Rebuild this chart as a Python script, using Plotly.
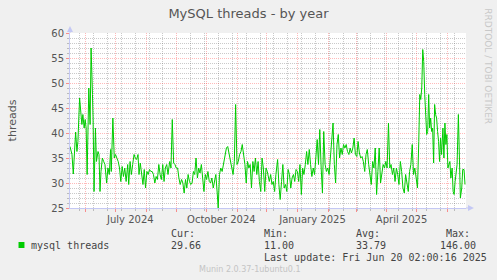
import datetime as dt
import plotly.graph_objects as go

# ---------------- data ----------------
window_start = dt.datetime(2024, 5, 16, 2, 0)
window_days = 400

# days since window_start
day_offset = [
    0.0, 2.0, 3.3, 4.7, 5.7, 7.0, 8.0, 9.7, 10.7, 12.0, 13.0, 14.3, 15.3, 16.3, 17.3, 19.0,
    20.3, 21.3, 22.7, 23.3, 24.3, 25.7, 26.7, 28.3, 29.3, 30.3, 31.3, 32.7, 34.0, 35.3, 37.0,
    38.3, 39.7, 41.0, 41.7, 43.3, 44.7, 46.0, 47.3, 48.7, 50.0, 51.3, 52.7, 54.0, 55.3, 56.7,
    58.3, 59.3, 60.7, 62.0, 63.3, 64.7, 66.0, 67.3, 68.7, 69.7, 71.0, 72.3, 73.7, 75.0, 76.3,
    77.7, 79.0, 80.3, 81.7, 83.0, 84.3, 85.7, 87.0, 88.3, 89.7, 91.0, 92.3, 93.7, 95.0, 96.3,
    97.7, 99.0, 100.7, 102.0, 103.3, 104.7, 106.0, 107.3, 108.7, 110.0, 111.3, 112.7, 114.0,
    115.3, 116.7, 118.0, 119.3, 120.7, 122.0, 123.3, 124.7, 126.0, 127.3, 128.7, 130.0, 131.3,
    132.7, 134.0, 135.3, 136.7, 138.0, 139.3, 140.7, 142.0, 143.3, 144.7, 146.0, 147.3, 148.7,
    149.7, 151.0, 152.3, 153.7, 155.0, 156.7, 158.0, 159.3, 160.7, 162.0, 163.3, 164.7, 166.0,
    167.3, 168.7, 170.0, 171.3, 172.7, 174.0, 175.3, 176.7, 178.0, 179.3, 180.7, 182.0, 183.3,
    184.7, 186.0, 187.3, 188.7, 190.0, 191.3, 192.7, 194.0, 195.3, 196.7, 198.0, 199.3,
    200.0, 201.3, 202.7, 204.0, 205.3, 206.7, 208.0, 209.7, 211.0, 212.3, 213.7, 215.0, 216.3,
    217.7, 219.0, 220.3, 221.7, 223.0, 224.3, 225.7, 227.0, 228.3, 229.7, 231.0, 232.3, 233.7,
    235.0, 236.3, 237.7, 239.0, 240.3, 241.7, 243.0, 244.3, 245.7, 247.0, 248.3, 249.7, 251.0,
    252.3, 253.7, 255.0, 256.3, 257.7, 259.0, 260.3, 261.7, 263.0, 264.3, 265.7, 267.0, 268.3,
    269.7, 271.0, 272.3, 273.7, 275.0, 276.3, 277.7, 279.0, 280.3, 281.7, 283.0, 284.3, 285.7,
    287.0, 288.3, 289.7, 291.0, 292.3, 293.7, 295.0, 296.3, 297.7, 299.0, 300.3, 301.7, 303.0,
    304.3, 305.7, 307.0, 308.3, 309.7, 311.0, 312.3, 313.7, 315.0, 316.3, 317.7, 319.0, 320.3,
    321.7, 323.0, 324.3, 325.7, 327.0, 328.3, 329.7, 331.0, 332.3, 333.7, 335.0, 336.3, 337.7,
    339.0, 340.3, 341.7, 343.0, 344.3, 345.7, 347.0, 348.3, 349.7, 351.0, 352.3, 353.3, 354.3,
    355.3, 356.3, 357.3, 358.3, 359.3, 360.3, 361.3, 362.3, 363.3, 364.3, 365.3, 366.3, 367.3,
    368.3, 369.3, 370.3, 371.3, 372.3, 373.3, 374.3, 375.3, 376.7, 377.7, 378.7, 379.7, 380.7,
    381.7, 382.7, 383.7, 384.7, 386.0, 387.0, 388.0, 389.0, 390.0, 391.0, 392.3, 393.3, 394.3,
    395.7, 396.7, 398.0, 399.0,
]

threads = [
    37.3, 35.7, 31.8, 37.0, 40.2, 36.3, 38.3, 47.0, 45.0, 41.7, 43.7, 41.0, 42.7, 41.0, 31.7, 49.0,
    41.7, 57.0, 47.7, 43.0, 28.3, 41.0, 34.3, 36.3, 35.7, 28.3, 32.3, 35.0, 34.3, 33.7, 30.0,
    33.0, 31.7, 36.7, 32.3, 43.0, 35.0, 35.7, 35.0, 34.3, 33.0, 30.3, 33.3, 31.3, 33.0, 30.3,
    33.7, 29.7, 34.3, 31.7, 33.7, 35.7, 35.0, 34.7, 35.7, 31.7, 34.0, 32.3, 29.7, 32.7, 29.0,
    32.3, 31.7, 32.7, 32.3, 32.3, 31.7, 30.0, 31.3, 30.7, 33.7, 31.7, 30.7, 33.7, 30.3, 33.0,
    33.7, 31.7, 34.3, 33.0, 42.7, 34.0, 33.7, 33.0, 33.0, 31.0, 29.7, 30.7, 30.0,
    28.0, 30.7, 29.0, 31.7, 30.3, 29.7, 30.0, 32.3, 31.7, 35.0, 31.0, 33.0, 32.0,
    33.7, 31.0, 28.3, 31.7, 30.7, 32.3, 30.3, 30.0, 31.0, 29.0, 30.3, 31.7, 28.0,
    25.0, 31.7, 33.0, 32.3, 33.7, 35.0, 37.0, 37.3, 35.7, 34.3, 33.0, 31.7, 34.3,
    45.7, 33.7, 34.3, 35.7, 36.3, 37.7, 35.7, 33.7, 30.0, 34.3, 33.0, 33.7, 29.0,
    34.3, 32.3, 35.0, 31.7, 34.3, 30.3, 28.3, 35.0, 33.0, 28.3, 33.0, 32.3,
    31.7, 30.3, 31.7, 29.7, 30.3, 28.3, 31.7, 34.7, 29.7, 26.7, 30.3, 33.7, 29.0,
    29.7, 28.3, 32.7, 31.7, 29.0, 31.0, 31.7, 30.3, 32.7, 32.3, 30.3, 33.7, 27.7,
    33.0, 31.7, 33.7, 36.3, 33.7, 36.7, 33.7, 31.3, 33.0, 31.7, 35.0, 38.7, 33.7,
    40.7, 33.0, 28.0, 40.3, 33.7, 32.3, 33.0, 31.7, 35.7, 39.0, 42.0, 33.7, 30.0,
    37.7, 39.7, 35.0, 37.0, 35.7, 37.7, 37.0, 37.7, 36.3, 35.7, 37.0, 36.0, 37.0,
    39.0, 35.7, 35.3, 38.3, 36.0, 35.0, 35.3, 34.3, 32.3, 35.7, 36.7, 33.7, 31.0,
    29.7, 34.3, 33.0, 37.0, 27.7, 32.3, 37.0, 30.0, 31.7, 33.7, 33.0, 34.3, 33.0,
    42.0, 33.0, 33.7, 31.7, 33.0, 30.3, 33.0, 31.7, 29.7, 34.3, 32.3, 29.0, 28.0,
    31.7, 30.3, 28.3, 32.3, 33.7, 37.7, 31.7, 33.0, 30.3, 29.0, 38.3, 47.7, 46.7,
    49.0, 56.7, 54.3, 47.7, 43.0, 39.7, 40.3, 47.7, 41.0, 43.0, 40.3, 41.0, 34.0,
    45.7, 43.7, 43.0, 40.3, 38.3, 34.3, 39.0, 35.7, 41.0, 35.0, 42.0, 37.7, 39.7,
    33.0, 33.7, 34.3, 31.0, 33.0, 28.3, 27.7, 30.3, 32.3, 33.7, 43.7, 31.0, 27.0,
    29.0, 32.7, 32.7, 29.7,
]

series_name = "mysql threads"
stat_labels = ["Cur:", "Min:", "Avg:", "Max:"]
stat_values = ["29.66", "11.00", "33.79", "146.00"]
last_update = "Last update: Fri Jun 20 02:00:16 2025"
quarter_label_dates = ["2024-07-16", "2024-10-16", "2025-01-16", "2025-04-16"]
quarter_labels = ["July 2024", "October 2024", "January 2025", "April 2025"]

# ---------------- figure ----------------
dates = [window_start + dt.timedelta(days=d) for d in day_offset]
window_end = window_start + dt.timedelta(days=window_days)

W, H = 497, 280
L, R, T, B = 66, 466, 33, 208


def px(x):
    return (x - L) / (R - L)


def py(y):
    return (B - y) / (B - T)


SANS = "DejaVu Sans"
MONO = "DejaVu Sans Mono"
TXT = "#555555"
RED_GRID = "rgba(255,40,40,0.32)"
GRAY_GRID = "rgba(90,90,90,0.32)"
AXIS = "#C4C8F4"

fig = go.Figure()
fig.add_trace(go.Scatter(x=dates, y=threads, mode="lines",
                         line=dict(color="#00CC00", width=1),
                         showlegend=False, hoverinfo="skip"))
fig.add_trace(go.Scatter(x=[window_start], y=[None], xaxis="x2", mode="lines",
                         showlegend=False, hoverinfo="skip"))

fig.update_layout(
    width=W, height=H,
    margin=dict(l=L, r=W - R, t=T, b=H - B, pad=0),
    paper_bgcolor="#F0F0F0",
    plot_bgcolor="#FFFFFF",
    showlegend=False,
    title=dict(text="MySQL threads - by year", x=0.5, xanchor="center",
               y=1 - 13 / H, yanchor="middle",
               font=dict(family=SANS, size=13, color=TXT)),
    xaxis=dict(
        type="date", range=[window_start, window_end],
        tick0="2024-06-01", dtick="M1",
        showgrid=True, gridcolor=RED_GRID, griddash="1px,1px", gridwidth=1,
        ticks="outside", ticklen=3, tickcolor="rgba(255,40,40,0.5)",
        showticklabels=False,
        showline=True, linecolor=AXIS, linewidth=1, zeroline=False,
        minor=dict(dtick=14 * 86400000, tick0="2024-05-26",
                   showgrid=True, gridcolor=GRAY_GRID, griddash="1px,1px",
                   ticks="outside", ticklen=2, tickcolor="rgba(90,90,90,0.35)"),
    ),
    xaxis2=dict(
        type="date", range=[window_start, window_end], overlaying="x",
        anchor="y", side="bottom",
        tickmode="array", tickvals=quarter_label_dates, ticktext=quarter_labels,
        ticks="", showgrid=False, showline=False, zeroline=False,
        tickfont=dict(family=SANS, size=10, color=TXT),
        ticklabelstandoff=4,
    ),
    yaxis=dict(
        range=[25, 60], tick0=0, dtick=5,
        showgrid=True, gridcolor=RED_GRID, griddash="1px,1px", gridwidth=1,
        ticks="outside", ticklen=3, tickcolor="rgba(255,40,40,0.5)",
        tickfont=dict(family=SANS, size=10, color=TXT),
        showline=True, linecolor=AXIS, linewidth=1, zeroline=False,
        title=dict(text="threads", font=dict(family=SANS, size=11, color=TXT),
                   standoff=32),
        minor=dict(dtick=1, showgrid=True, gridcolor=GRAY_GRID, griddash="1px,1px",
                   ticks="outside", ticklen=2, tickcolor="rgba(90,90,90,0.35)"),
    ),
)

shapes = [
    # axis extensions and arrow heads
    dict(type="line", xref="paper", yref="paper", x0=0, x1=0, y0=1, y1=py(28),
         line=dict(color=AXIS, width=1)),
    dict(type="path", xref="paper", yref="paper",
         path=f"M {px(63)} {py(32)} L {px(69)} {py(32)} L {px(66)} {py(26)} Z",
         fillcolor=AXIS, line=dict(width=0)),
    dict(type="line", xref="paper", yref="paper", x0=1, x1=px(470), y0=0, y1=0,
         line=dict(color=AXIS, width=1)),
    dict(type="path", xref="paper", yref="paper",
         path=f"M {px(468)} {py(205)} L {px(468)} {py(211)} L {px(474)} {py(208)} Z",
         fillcolor=AXIS, line=dict(width=0)),
    # legend swatch
    dict(type="rect", xref="paper", yref="paper", x0=px(14), x1=px(20),
         y0=py(248), y1=py(242), fillcolor="#00CC00", line=dict(width=0)),
]
fig.update_layout(shapes=shapes)

ann = []


def text(t, x, y, anchor="left", size=10, family=MONO, color="#444444", angle=0):
    ann.append(dict(text=t, x=px(x), y=py(y), xref="paper", yref="paper",
                    xanchor=anchor, yanchor="middle", showarrow=False,
                    textangle=angle, borderpad=0,
                    font=dict(family=family, size=size, color=color)))


text(series_name, 26, 245)
stat_x = [(167, "left"), (261, "left"), (354, "left"), (477, "right")]
for (sx, anc), lab, val in zip(stat_x, stat_labels, stat_values):
    lx = sx if anc == "left" else 471
    text(lab, lx, 233, anchor=anc)
    text(val, sx, 245, anchor=anc)
text(last_update, 261, 257)
text("Munin 2.0.37-1ubuntu0.1", 248, 269, anchor="center", size=8, family=SANS,
     color="#C4C4C4")
text("RRDTOOL / TOBI OETIKER", 488, 66, anchor="center", size=9, family=SANS,
     color="#C8C8C8", angle=90)

fig.update_layout(annotations=ann)

fig.write_html("out.html")
